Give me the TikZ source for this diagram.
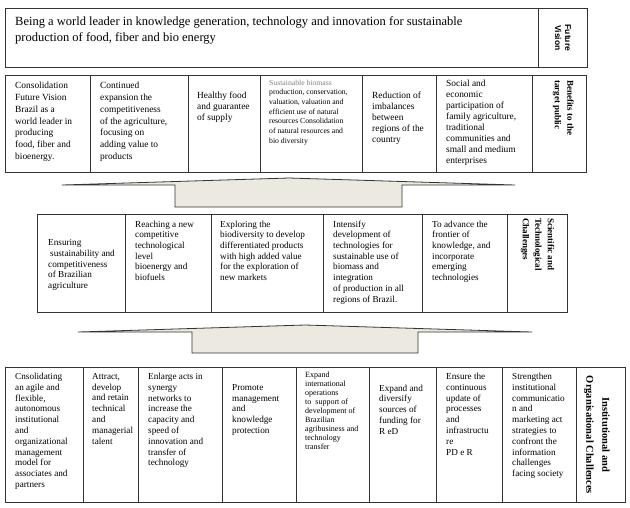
\documentclass[tikz,border=0pt]{standalone}
\usepackage{fontspec}
\setmainfont{Liberation Serif}
\newfontfamily\visionsans{Liberation Sans}
\usepackage{tikz}
\usetikzlibrary{positioning}
\definecolor{arrowfill}{HTML}{ECEAE0}
\definecolor{edgecol}{HTML}{333333}

\begin{document}
\begin{tikzpicture}[x=1pt,y=-1pt,
  cell/.style={draw=edgecol,line width=0.8pt,anchor=north west,inner sep=0pt},
  txt/.style={anchor=north west,align=left,inner sep=0pt},
  rowtop/.style={font=\fontsize{12.5}{16}\selectfont},
  rowben/.style={font=\fontsize{9.4}{11.8}\selectfont},
  rowbentight/.style={font=\fontsize{9.4}{11}\selectfont},
  rowsmall/.style={font=\fontsize{7.7}{9.7}\selectfont},
  rowsci/.style={font=\fontsize{9.2}{10.7}\selectfont},
  rowins/.style={font=\fontsize{9.2}{10.8}\selectfont},
  rowinssmall/.style={font=\fontsize{8}{9}\selectfont},
  sidehead/.style={align=left,inner sep=0pt,rotate=-90,font=\bfseries\fontsize{9}{12.5}\selectfont},
  uparrow/.style={draw=edgecol,line width=0.8pt,fill=arrowfill,line join=miter}]
  \useasboundingbox (0,0) rectangle (630,507);

  % future vision
  \node[cell,minimum width=533pt,minimum height=59pt] (vis1) at (5,8) {};
  \node[cell,minimum width=49pt,minimum height=59pt] (vis2) at (538,8) {};
  \node[txt,rowtop] (tvis1) at ([shift={(10,8)}]vis1.north west)
    {Being a world leader in knowledge generation, technology and innovation for sustainable\\production of food, fiber and bio energy};
  \node[align=center,inner sep=0pt,rotate=-90,font=\visionsans\bfseries\fontsize{8.5}{10}\selectfont] (tvis2) at (vis2.center) {Future\\Vision};

  % benefits to the target public
  \foreach \xa/\xb [count=\i] in {5/90,90/188,188/260,260/362,362/436,436/532,532/586}
    \node[cell,minimum width={(\xb-\xa)*1pt},minimum height=97pt] (ben\i) at (\xa,75) {};
  \node[txt,rowben] (tben1) at ([shift={(10,7)}]ben1.north west)
    {Consolidation\\Future Vision\\Brazil as a\\world leader in\\producing\\food, fiber and\\bioenergy.};
  \node[txt,rowben] (tben2) at ([shift={(10,7)}]ben2.north west)
    {Continued\\expansion the\\competitiveness\\of the agriculture,\\focusing on\\adding value to\\products};
  \node[txt,rowbentight] (tben3) at ([shift={(9,17)}]ben3.north west)
    {Healthy food\\and guarantee\\of supply};
  \node[txt,rowsmall] (tben4) at ([shift={(9,4.5)}]ben4.north west)
    {\textcolor{gray}{Sustainable biomass}\\production, conservation,\\valuation, valuation and\\efficient use of natural\\resources Consolidation\\of natural resources and\\bio diversity};
  \node[txt,rowbentight] (tben5) at ([shift={(10,17)}]ben5.north west)
    {Reduction of\\imbalances\\between\\regions of the\\country};
  \node[txt,rowbentight] (tben6) at ([shift={(10,5)}]ben6.north west)
    {Social and\\economic\\participation of\\family agriculture,\\traditional\\communities and\\small and medium\\enterprises};
  \node[sidehead,anchor=north west] (tben7) at ([shift={(-13,5)}]ben7.north east)
    {Benefits to the\\target public};

  \draw[uparrow] (62,185) -- (175,185) -- (175,207) -- (402,207) -- (402,185) -- (515,185) -- (289,178) -- cycle;

  % scientific and technological challenges
  \foreach \xa/\xb [count=\i] in {37/125,125/211,211/323,323/422,422/507,507/567}
    \node[cell,minimum width={(\xb-\xa)*1pt},minimum height=98pt] (sci\i) at (\xa,214) {};
  \node[txt,rowsci] (tsci1) at ([shift={(11,25.5)}]sci1.north west)
    {Ensuring\\\hspace{2pt}sustainability and\\competitiveness\\of Brazilian\\agriculture};
  \node[txt,rowsci] (tsci2) at ([shift={(10,6.5)}]sci2.north west)
    {Reaching a new\\competitive\\technological\\level\\bioenergy and\\biofuels};
  \node[txt,rowsci] (tsci3) at ([shift={(9,6.5)}]sci3.north west)
    {Exploring the\\biodiversity to develop\\differentiated products\\with high added value\\for the exploration of\\new markets};
  \node[txt,rowsci] (tsci4) at ([shift={(10,6.5)}]sci4.north west)
    {Intensify\\development of\\technologies for\\sustainable use of\\biomass and\\integration\\of production in all\\regions of Brazil.};
  \node[txt,rowsci] (tsci5) at ([shift={(10,6.5)}]sci5.north west)
    {To advance the\\frontier of\\knowledge, and\\incorporate\\emerging\\technologies};
  \node[sidehead,anchor=north west] (tsci6) at ([shift={(-13.5,4)}]sci6.north east)
    {Scientific and\\Technological\\Challenges};

  \draw[uparrow] (78,332) -- (192,332) -- (192,353) -- (418,353) -- (418,332) -- (532,332) -- (305,325) -- cycle;

  % institutional and organisational challenges
  \foreach \xa/\xb [count=\i] in {5/83,83/138,138/222,222/296,296/369,369/436,436/502,502/576,576/625}
    \node[cell,minimum width={(\xb-\xa)*1pt},minimum height=135pt] (ins\i) at (\xa,367) {};
  \node[txt,rowins] (tins1) at ([shift={(10,6)}]ins1.north west)
    {Cnsolidating\\an agile and\\flexible,\\autonomous\\institutional\\and\\organizational\\management\\model for\\associates and\\partners};
  \node[txt,rowins] (tins2) at ([shift={(9,6)}]ins2.north west)
    {Attract,\\develop\\and retain\\technical\\and\\managerial\\talent};
  \node[txt,rowins] (tins3) at ([shift={(10,6)}]ins3.north west)
    {Enlarge acts in\\synergy\\networks to\\increase the\\capacity and\\speed of\\innovation and\\transfer of\\technology};
  \node[txt,rowins] (tins4) at ([shift={(10,17)}]ins4.north west)
    {Promote\\management\\and\\knowledge\\protection};
  \node[txt,rowinssmall] (tins5) at ([shift={(9,4.5)}]ins5.north west)
    {Expand\\international\\operations\\to\ \ support of\\development of\\Brazilian\\agribusiness and\\technology\\transfer};
  \node[txt,rowins] (tins6) at ([shift={(10,17.5)}]ins6.north west)
    {Expand and\\diversify\\sources of\\funding for\\R eD};
  \node[txt,rowins] (tins7) at ([shift={(10,6)}]ins7.north west)
    {Ensure the\\continuous\\update of\\processes\\and\\infrastructu\\re\\PD e R};
  \node[txt,rowins] (tins8) at ([shift={(10,6)}]ins8.north west)
    {Strengthen\\institutional\\communicatio\\n and\\marketing act\\strategies to\\confront the\\information\\challenges\\facing society};
  \node[sidehead,align=center,font=\bfseries\fontsize{10.5}{16}\selectfont] (tins9) at ([xshift=-4]ins9.center)
    {Institutional and\\Organisational Challences};
\end{tikzpicture}
\end{document}
